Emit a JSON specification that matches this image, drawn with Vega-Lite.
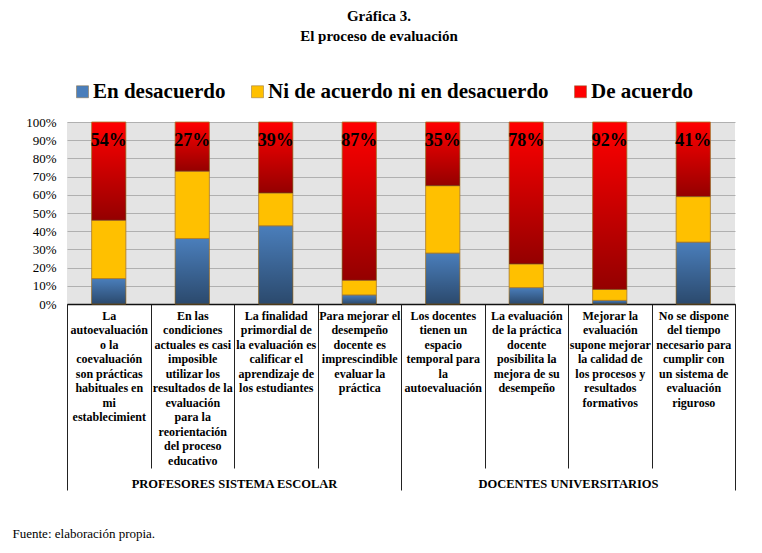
{
  "$schema": "https://vega.github.io/schema/vega-lite/v6.json",
  "autosize": {"type": "none"},
  "width": 668,
  "height": 182,
  "padding": {"left": 67, "top": 122, "right": 27, "bottom": 249},
  "background": "white",
  "config": {
    "font": "Liberation Serif",
    "view": {"fill": "#e4e4e4", "stroke": null},
    "axis": {"labelFont": "Liberation Serif", "titleFont": "Liberation Serif"},
    "axisY": {"labelOverlap": false},
    "legend": {"labelFont": "Liberation Serif"}
  },
  "title": {
    "text": ["Gráfica 3.", "El proceso de evaluación"],
    "font": "Liberation Serif",
    "fontSize": 15,
    "fontWeight": "bold",
    "color": "black",
    "lineHeight": 20,
    "anchor": "middle",
    "frame": "group",
    "dx": -22,
    "offset": 37
  },
  "datasets": {
    "bars": [
      {"cat": "La|autoevaluación|o la|coevaluación|son prácticas|habituales en|mi|establecimient", "resp": "En desacuerdo", "ord": 1, "pct": 14},
      {"cat": "La|autoevaluación|o la|coevaluación|son prácticas|habituales en|mi|establecimient", "resp": "Ni de acuerdo ni en desacuerdo", "ord": 2, "pct": 32},
      {"cat": "La|autoevaluación|o la|coevaluación|son prácticas|habituales en|mi|establecimient", "resp": "De acuerdo", "ord": 3, "pct": 54},
      {"cat": "En las|condiciones|actuales es casi|imposible|utilizar los|resultados de la|evaluación|para la|reorientación|del proceso|educativo", "resp": "En desacuerdo", "ord": 1, "pct": 36},
      {"cat": "En las|condiciones|actuales es casi|imposible|utilizar los|resultados de la|evaluación|para la|reorientación|del proceso|educativo", "resp": "Ni de acuerdo ni en desacuerdo", "ord": 2, "pct": 37},
      {"cat": "En las|condiciones|actuales es casi|imposible|utilizar los|resultados de la|evaluación|para la|reorientación|del proceso|educativo", "resp": "De acuerdo", "ord": 3, "pct": 27},
      {"cat": "La finalidad|primordial de|la evaluación es|calificar el|aprendizaje de|los estudiantes", "resp": "En desacuerdo", "ord": 1, "pct": 43},
      {"cat": "La finalidad|primordial de|la evaluación es|calificar el|aprendizaje de|los estudiantes", "resp": "Ni de acuerdo ni en desacuerdo", "ord": 2, "pct": 18},
      {"cat": "La finalidad|primordial de|la evaluación es|calificar el|aprendizaje de|los estudiantes", "resp": "De acuerdo", "ord": 3, "pct": 39},
      {"cat": "Para mejorar el|desempeño|docente es|imprescindible|evaluar la|práctica", "resp": "En desacuerdo", "ord": 1, "pct": 5},
      {"cat": "Para mejorar el|desempeño|docente es|imprescindible|evaluar la|práctica", "resp": "Ni de acuerdo ni en desacuerdo", "ord": 2, "pct": 8},
      {"cat": "Para mejorar el|desempeño|docente es|imprescindible|evaluar la|práctica", "resp": "De acuerdo", "ord": 3, "pct": 87},
      {"cat": "Los docentes|tienen un|espacio|temporal para|la|autoevaluación", "resp": "En desacuerdo", "ord": 1, "pct": 28},
      {"cat": "Los docentes|tienen un|espacio|temporal para|la|autoevaluación", "resp": "Ni de acuerdo ni en desacuerdo", "ord": 2, "pct": 37},
      {"cat": "Los docentes|tienen un|espacio|temporal para|la|autoevaluación", "resp": "De acuerdo", "ord": 3, "pct": 35},
      {"cat": "La evaluación|de la práctica|docente|posibilita la|mejora de su|desempeño", "resp": "En desacuerdo", "ord": 1, "pct": 9},
      {"cat": "La evaluación|de la práctica|docente|posibilita la|mejora de su|desempeño", "resp": "Ni de acuerdo ni en desacuerdo", "ord": 2, "pct": 13},
      {"cat": "La evaluación|de la práctica|docente|posibilita la|mejora de su|desempeño", "resp": "De acuerdo", "ord": 3, "pct": 78},
      {"cat": "Mejorar la|evaluación|supone mejorar|la calidad de|los procesos y|resultados|formativos", "resp": "En desacuerdo", "ord": 1, "pct": 2},
      {"cat": "Mejorar la|evaluación|supone mejorar|la calidad de|los procesos y|resultados|formativos", "resp": "Ni de acuerdo ni en desacuerdo", "ord": 2, "pct": 6},
      {"cat": "Mejorar la|evaluación|supone mejorar|la calidad de|los procesos y|resultados|formativos", "resp": "De acuerdo", "ord": 3, "pct": 92},
      {"cat": "No se dispone|del tiempo|necesario para|cumplir  con|un sistema de|evaluación|riguroso", "resp": "En desacuerdo", "ord": 1, "pct": 34},
      {"cat": "No se dispone|del tiempo|necesario para|cumplir  con|un sistema de|evaluación|riguroso", "resp": "Ni de acuerdo ni en desacuerdo", "ord": 2, "pct": 25},
      {"cat": "No se dispone|del tiempo|necesario para|cumplir  con|un sistema de|evaluación|riguroso", "resp": "De acuerdo", "ord": 3, "pct": 41}
    ],
    "groups": [
      {"grupo": "PROFESORES SISTEMA ESCOLAR"},
      {"grupo": "DOCENTES UNIVERSITARIOS"}
    ]
  },
  "resolve": {"scale": {"x": "independent"}, "axis": {"x": "independent"}},
  "layer": [
    {
      "data": {"name": "bars"},
      "encoding": {
        "x": {
          "field": "cat", "type": "nominal", "sort": null,
          "scale": {"paddingInner": 0, "paddingOuter": 0},
          "axis": {
            "title": null,
            "labelExpr": "split(datum.label, '|')",
            "labelAngle": 0,
            "labelFont": "Liberation Serif",
            "labelFontSize": 12,
            "labelFontWeight": "bold",
            "labelColor": "black",
            "labelLineHeight": 14.5,
            "labelBaseline": "top",
            "labelLimit": 0,
            "labelOverlap": false,
            "labelBound": false,
            "tickBand": "extent",
            "tickSize": 164,
            "tickColor": "#222222",
            "tickWidth": 1,
            "labelPadding": -158,
            "domainColor": "#111111",
            "domainWidth": 1.5
          }
        },
        "y": {
          "field": "pct", "type": "quantitative", "stack": "zero",
          "scale": {"domain": [0, 100]},
          "axis": {
            "title": null,
            "values": [0, 10, 20, 30, 40, 50, 60, 70, 80, 90, 100],
            "labelExpr": "datum.value + '%'",
            "labelFont": "Liberation Serif",
            "labelFontSize": 13,
            "labelColor": "black",
            "labelPadding": 11,
            "labelOverlap": false,
            "labelBound": false,
            "ticks": false,
            "domain": false,
            "grid": true,
            "gridColor": "#b0b0b0",
            "gridWidth": 1
          }
        },
        "order": {"field": "ord"}
      },
      "layer": [
        {
          "mark": {"type": "bar", "width": {"band": 0.41}, "stroke": "#a8782a", "strokeWidth": 0.8},
          "encoding": {
            "color": {
              "field": "resp", "type": "nominal",
              "scale": {
                "domain": ["En desacuerdo", "Ni de acuerdo ni en desacuerdo", "De acuerdo"],
                "range": ["#4a7ebb", "#ffc000", "#ff0000"]
              },
              "legend": {
                "title": null,
                "orient": "none",
                "direction": "horizontal",
                "legendX": 5,
                "legendY": -41,
                "padding": 0,
                "symbolType": "square",
                "symbolSize": 144,
                "symbolStrokeColor": "#8a6a3a",
                "symbolStrokeWidth": 0.5,
                "labelFont": "Liberation Serif",
                "labelFontSize": 21,
                "labelFontWeight": "bold",
                "labelColor": "black",
                "labelOffset": 0,
                "labelLimit": 0,
                "columnPadding": 21
              }
            }
          }
        },
        {
          "mark": {"type": "bar", "width": {"band": 0.41}},
          "encoding": {
            "detail": {"field": "resp"},
            "fill": {
              "condition": {"test": "datum.resp === 'Ni de acuerdo ni en desacuerdo'", "value": "transparent"},
              "value": {
                "gradient": "linear", "x1": 0, "y1": 0, "x2": 0, "y2": 1,
                "stops": [
                  {"offset": 0, "color": "rgba(0,0,0,0)"},
                  {"offset": 1, "color": "rgba(0,0,0,0.42)"}
                ]
              }
            }
          }
        },
        {
          "transform": [
            {"filter": "datum.resp === 'De acuerdo'"},
            {"calculate": "datum.pct + '%'", "as": "etiqueta"}
          ],
          "mark": {"type": "text", "font": "Liberation Serif", "fontSize": 18, "fontWeight": "bold", "color": "black", "baseline": "top", "dy": 10},
          "encoding": {
            "y": {
              "datum": 100, "type": "quantitative",
              "axis": {
                "title": null,
                "values": [0, 10, 20, 30, 40, 50, 60, 70, 80, 90, 100],
                "labelExpr": "datum.value + '%'",
                "labelFont": "Liberation Serif",
                "labelFontSize": 13,
                "labelColor": "black",
                "labelPadding": 11,
                "labelOverlap": false,
                "labelBound": false,
                "ticks": false,
                "domain": false,
                "grid": true,
                "gridColor": "#b0b0b0",
                "gridWidth": 1
              }
            },
            "order": null,
            "text": {"field": "etiqueta", "type": "nominal"}
          }
        }
      ]
    },
    {
      "data": {"name": "groups"},
      "mark": {"type": "point", "opacity": 0},
      "encoding": {
        "x": {
          "field": "grupo", "type": "nominal", "sort": null,
          "scale": {"paddingInner": 0, "paddingOuter": 0},
          "axis": {
            "orient": "bottom",
            "title": "Fuente: elaboración propia.",
            "titleFont": "Liberation Serif",
            "titleFontSize": 13,
            "titleFontWeight": "normal",
            "titleColor": "black",
            "titleAnchor": "start",
            "titleAlign": "left",
            "titleBaseline": "middle",
            "titleX": -55,
            "titleY": 229,
            "labelAngle": 0,
            "labelFont": "Liberation Serif",
            "labelFontSize": 12.5,
            "labelFontWeight": "bold",
            "labelColor": "black",
            "labelBaseline": "middle",
            "labelLimit": 0,
            "labelPadding": -7,
            "tickBand": "extent",
            "tickSize": 186,
            "tickColor": "#222222",
            "tickWidth": 1,
            "domain": false
          }
        }
      }
    }
  ]
}
